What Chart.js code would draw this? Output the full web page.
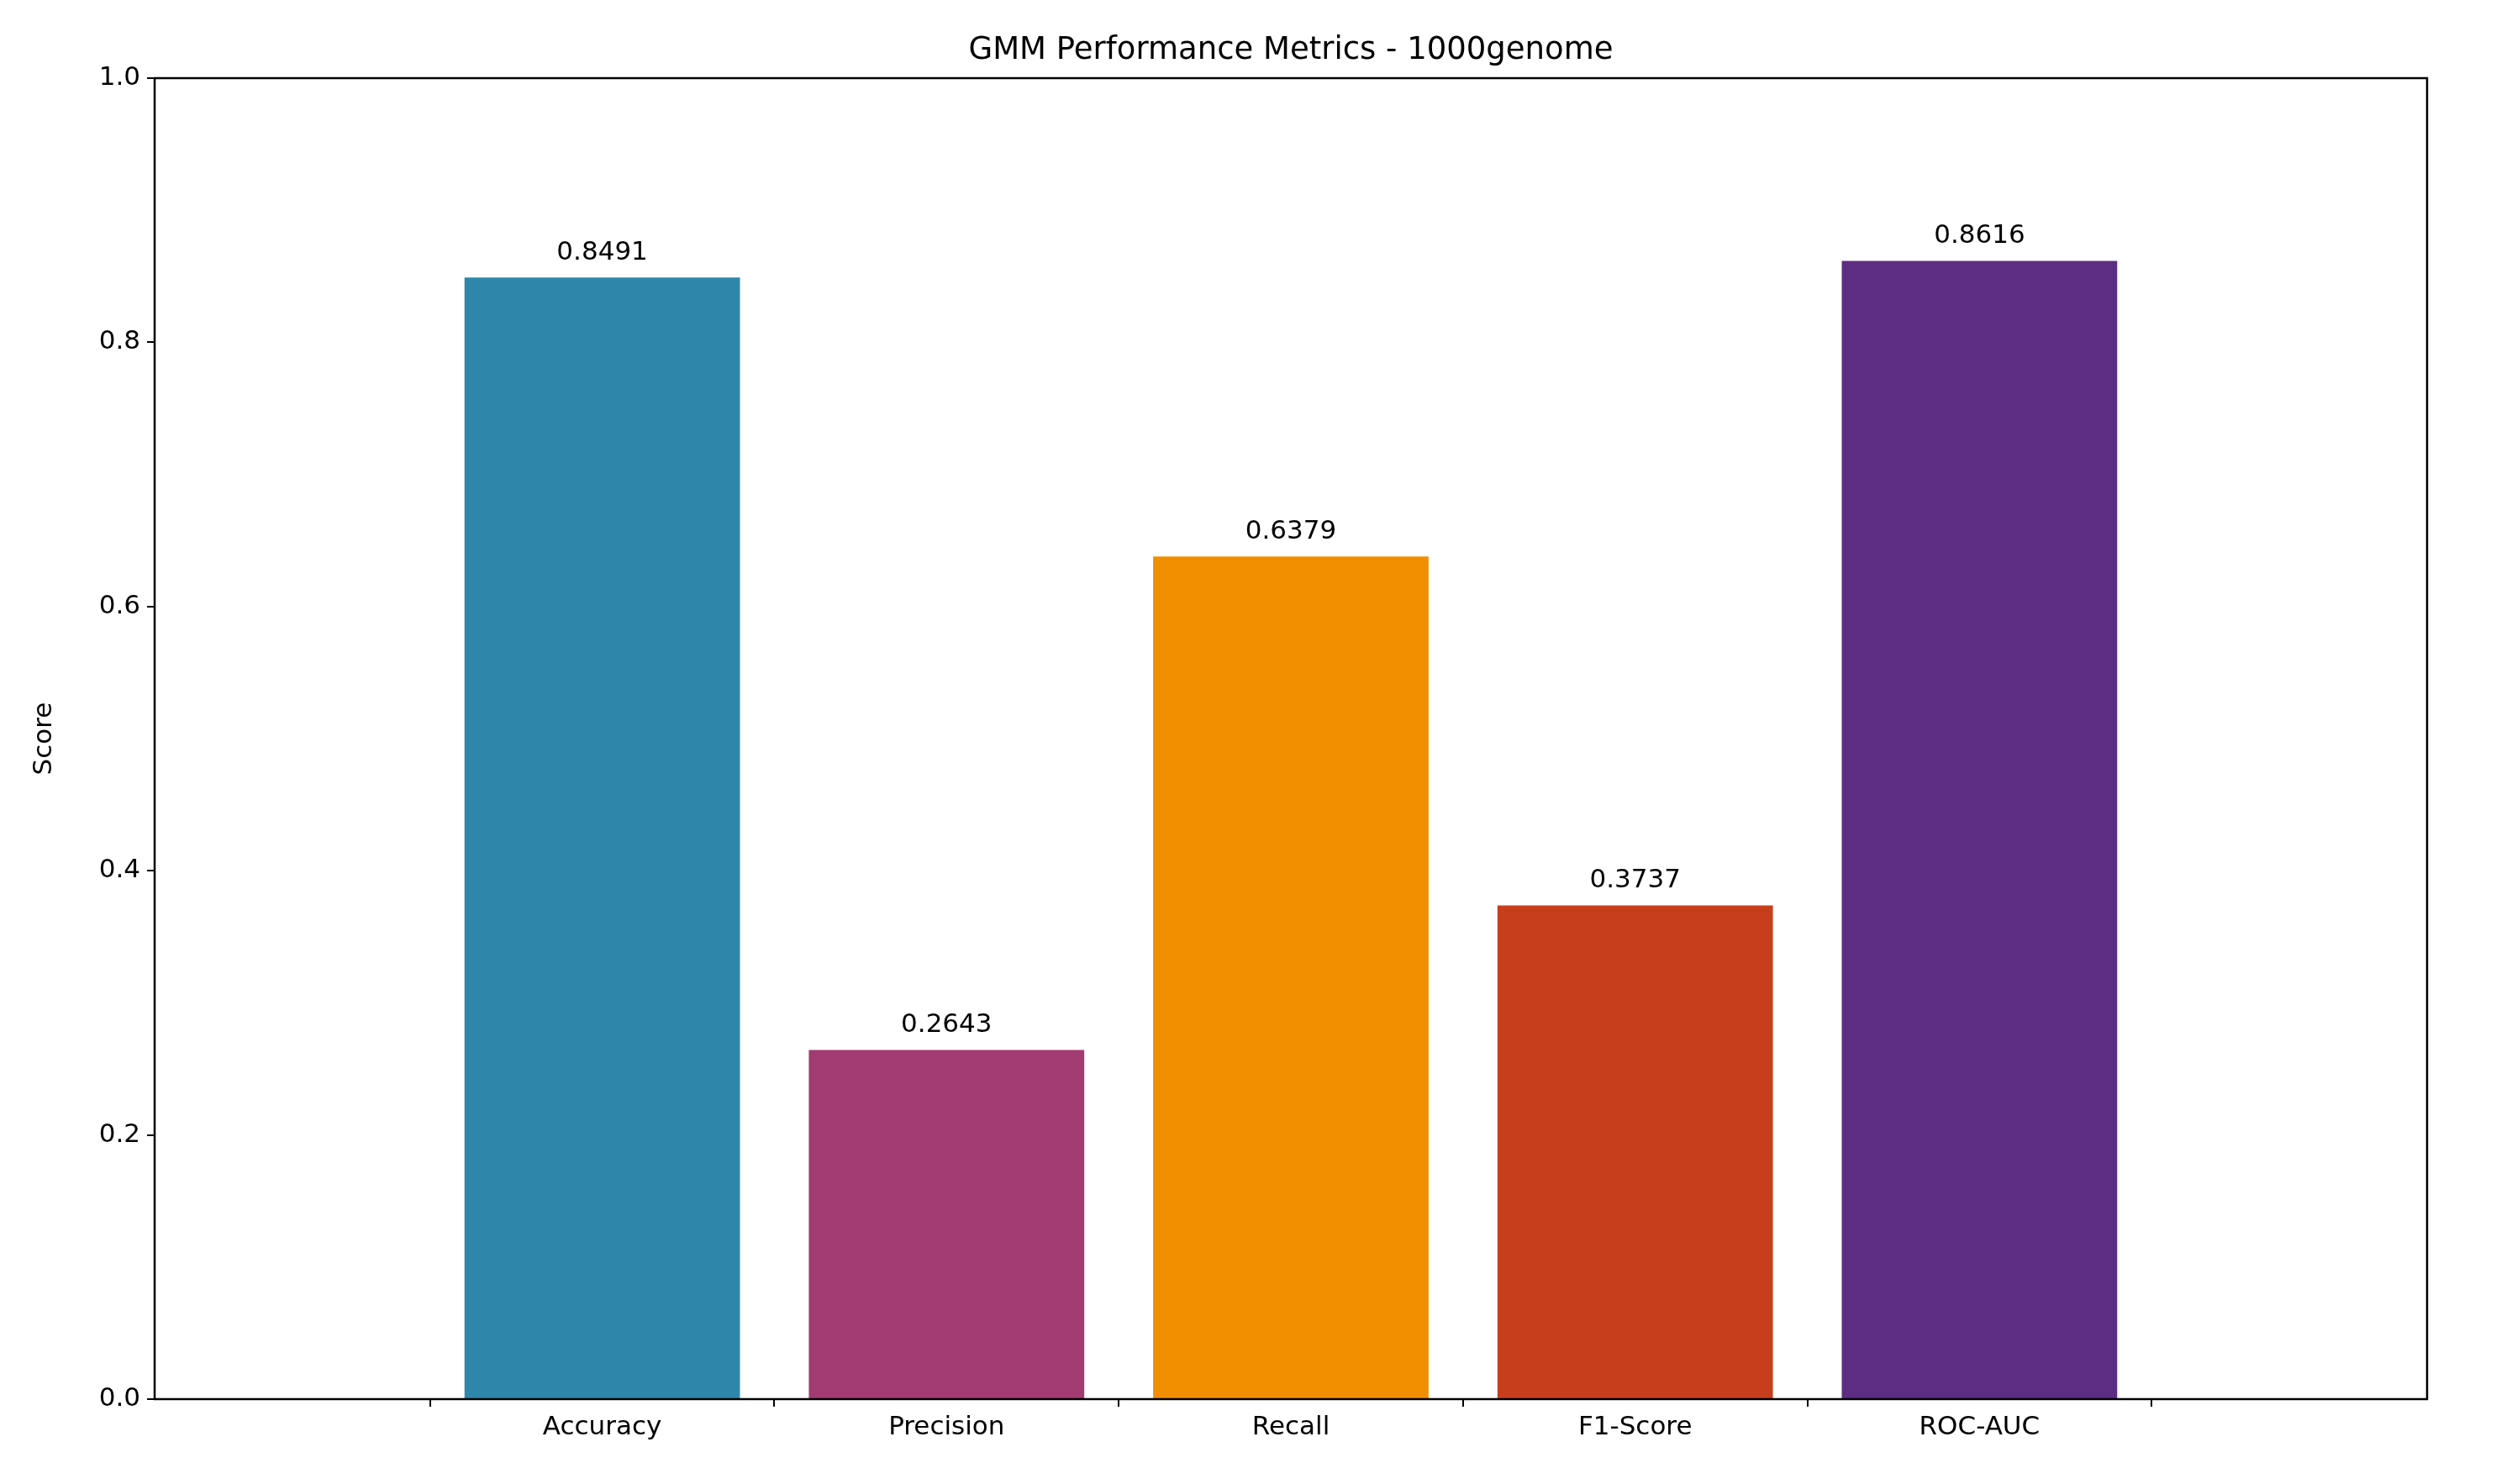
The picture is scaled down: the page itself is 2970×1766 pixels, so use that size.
<!DOCTYPE html>
<html><head><meta charset="utf-8">
<script src="https://cdn.jsdelivr.net/npm/chart.js@4/dist/chart.umd.min.js"></script>
<style>html,body{margin:0;padding:0;background:#fff}#c{display:block}</style>
</head><body>
<canvas id="c" width="2970" height="1766"></canvas>
<script>
const metrics = ['Accuracy', 'Precision', 'Recall', 'F1-Score', 'ROC-AUC'];
const scores = [0.8491, 0.2643, 0.6379, 0.3737, 0.8616];
const barColors = ['#2E86AB', '#A23B72', '#F18F01', '#C73E1D', '#5C2D82'];
const yTicks = [0, 0.2, 0.4, 0.6, 0.8, 1.0];

const FONT = 'DejaVu Sans';

const extras = {
  id: 'extras',
  afterDraw(chart) {
    const ctx = chart.ctx, a = chart.chartArea;
    ctx.save();
    ctx.strokeStyle = '#000'; ctx.lineWidth = 2.5;
    ctx.strokeRect(a.left, a.top, a.right - a.left, a.bottom - a.top);
    ctx.fillStyle = '#000';
    ctx.textAlign = 'center';
    ctx.font = '37px "' + FONT + '"';
    ctx.textBaseline = 'bottom';
    ctx.fillText('GMM Performance Metrics - 1000genome', (a.left + a.right) / 2, a.top - 14);
    ctx.font = '31px "' + FONT + '"';
    const meta = chart.getDatasetMeta(0);
    meta.data.forEach((bar, i) => {
      ctx.fillText(scores[i].toFixed(4), bar.x, bar.y - 14);
    });
    ctx.restore();
  }
};

new Chart(document.getElementById('c'), {
  type: 'bar',
  data: {
    datasets: [{
      data: scores.map((v, i) => ({ x: i, y: v })),
      backgroundColor: barColors, categoryPercentage: 1, barPercentage: 0.8
    }]
  },
  options: {
    responsive: false,
    animation: false,
    devicePixelRatio: 1,
    layout: { padding: { top: 93, right: 82, left: 30, bottom: 0 } },
    plugins: { legend: { display: false }, tooltip: { enabled: false }, title: { display: false } },
    scales: {
      x: {
        type: 'linear', min: -0.64, max: 4.64,
        afterBuildTicks(s) { s.ticks = metrics.map((m, i) => ({ value: i })); },
        grid: { display: true, drawOnChartArea: false, tickLength: 9, color: '#000', lineWidth: 2 },
        border: { display: false },
        ticks: { color: '#000', font: { family: FONT, size: 31 }, padding: 6, callback: v => metrics[v] },
        afterFit(s) { s.height = 101; }
      },
      y: {
        min: 0, max: 1,
        afterBuildTicks(s) { s.ticks = yTicks.map(v => ({ value: v })); },
        grid: { display: true, drawOnChartArea: false, tickLength: 9, color: '#000', lineWidth: 2 },
        border: { display: false },
        ticks: { color: '#000', font: { family: FONT, size: 31 }, padding: 8, callback: v => v.toFixed(1) },
        title: { display: true, text: 'Score', color: '#000', font: { family: FONT, size: 31 }, padding: { bottom: 18 } },
        afterFit(s) { s.width = 154; }
      }
    }
  },
  plugins: [extras]
});
</script>
</body></html>
